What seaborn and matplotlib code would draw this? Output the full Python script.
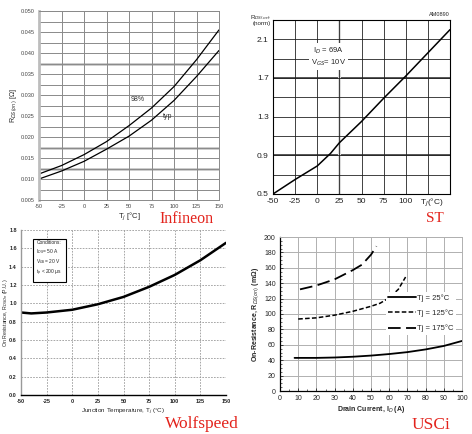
import numpy as np
import pandas as pd
import matplotlib
matplotlib.use("Agg")
import matplotlib.pyplot as plt
import seaborn as sns

# Infineon: R_DS(on) vs Tj
inf_t = [-50, -25, 0, 25, 50, 75, 100, 125, 150]
inf_typ = [0.0100, 0.0119, 0.0142, 0.0171, 0.0202, 0.0240, 0.0287, 0.0344, 0.0406]
inf_98 = [0.0112, 0.0132, 0.0158, 0.0189, 0.0227, 0.0269, 0.0320, 0.0384, 0.0455]

# ST: normalised R_DS(on) vs Tj
st_t = [-50, -25, 0, 15, 25, 50, 75, 100, 125, 150]
st_r = [0.50, 0.65, 0.79, 0.92, 1.03, 1.25, 1.49, 1.72, 1.96, 2.20]

# Wolfspeed: per-unit on resistance vs junction temperature
wolf_t = [-50, -40, -25, 0, 25, 50, 75, 100, 125, 150]
wolf_r = [0.90, 0.89, 0.90, 0.93, 0.99, 1.07, 1.18, 1.31, 1.47, 1.66]

# USCi: on resistance vs drain current
usci_id25 = [8, 20, 30, 40, 50, 60, 70, 80, 90, 100]
usci_r25 = [43, 43, 43.5, 44.5, 46, 48, 50.5, 54, 58.5, 65]
usci_id125 = [10, 20, 30, 40, 50, 55, 60, 65, 69]
usci_r125 = [93.5, 95, 98.5, 103.5, 110, 114, 121, 132, 148]
usci_id175 = [11, 20, 30, 40, 45, 50, 53]
usci_r175 = [132, 137, 145, 157, 164, 177, 188]

sns.set_style("white")
plt.rcParams['font.family'] = ['Liberation Sans', 'DejaVu Sans']
plt.rcParams['axes.unicode_minus'] = False

W, H = 472, 434
fig = plt.figure(figsize=(W / 100, H / 100), dpi=100)


def box(l, t, r, b):
    return [l / W, 1 - b / H, (r - l) / W, (b - t) / H]


red = '#e3231c'

# ---------------- Infineon ----------------
ax1 = fig.add_axes(box(39, 11, 219, 200))
df = pd.DataFrame({"t": inf_t, "typ": inf_typ, "p98": inf_98})
sns.lineplot(data=df, x="t", y="p98", ax=ax1, color='black', lw=0.9)
sns.lineplot(data=df, x="t", y="typ", ax=ax1, color='black', lw=0.9)
ax1.set_xlim(-50, 150)
ax1.set_ylim(0.005, 0.050)
ax1.set_xticks(np.arange(-50, 151, 25))
ax1.set_yticks(np.arange(0.005, 0.0501, 0.005))
ax1.set_yticks(np.arange(0.0075, 0.05, 0.005), minor=True)
ax1.yaxis.set_major_formatter(matplotlib.ticker.FormatStrFormatter('%.3f'))
ax1.grid(True, which='major', color='#8a8a8a', lw=0.7)
ax1.grid(True, which='minor', axis='y', color='#8a8a8a', lw=0.7)
for y in [0.0125, 0.0175, 0.0375]:
    ax1.axhline(y, color='#bdbdbd', lw=1.8, zorder=0)
ax1.tick_params(labelsize=4, colors='#444444', length=0, pad=3)
for s in ax1.spines.values():
    s.set_color('#8a8a8a')
    s.set_linewidth(0.7)
ax1.spines['left'].set_color('#bdbdbd')
ax1.spines['left'].set_linewidth(2)
ax1.set_xlabel("T$_j$ [°C]", fontsize=5.5, labelpad=1)
ax1.set_ylabel("R$_{DS(on)}$ [Ω]", fontsize=5, labelpad=1)
ax1.text(60, 0.0289, "98%", fontsize=5, color='#333333', ha='center', va='center')
ax1.text(93, 0.0248, "typ", fontsize=5, color='#333333', ha='center', va='center')

# ---------------- ST ----------------
ax2 = fig.add_axes(box(273, 20, 450, 194))
df = pd.DataFrame({"t": st_t, "r": st_r})
sns.lineplot(data=df, x="t", y="r", ax=ax2, color='black', lw=1.1)
ax2.set_xlim(-50, 150)
ax2.set_ylim(0.5, 2.3)
ax2.set_xticks(np.arange(-50, 101, 25))
ax2.set_xticks([125, 150], minor=True)
ax2.set_yticks([0.5, 0.9, 1.3, 1.7, 2.1])
ax2.set_yticks([0.7, 1.1, 1.5, 1.9, 2.3], minor=True)
ax2.grid(True, which='both', color='#222222', lw=0.6)
ax2.axhline(0.9, color='#555555', lw=1.4, zorder=0)
ax2.axhline(1.7, color='#555555', lw=1.4, zorder=0)
ax2.axvline(25, color='#dddddd', lw=2.2, zorder=0)
ax2.tick_params(which='both', labelsize=6, length=0, pad=3, colors='#222222')
for s in ax2.spines.values():
    s.set_color('black')
    s.set_linewidth(0.8)
ax2.set_xlabel("")
ax2.set_ylabel("")
ax2.text(-52, 2.3, "R$_{DS(on)}$\n(norm)", fontsize=4.5, ha='right', va='center',
         linespacing=0.9)
ax2.text(150, 2.33, "AM0890", fontsize=4, ha='right', va='bottom')
ax2.text(130, 0.41, "T$_J$(°C)", fontsize=6, ha='center', va='center', color='#222222')
ax2.text(13, 1.92, "I$_D$ = 69A\nV$_{GS}$= 10V", fontsize=5.5, ha='center', va='center',
         bbox=dict(facecolor='white', edgecolor='none', pad=1.5))

# ---------------- Wolfspeed ----------------
ax3 = fig.add_axes(box(21, 230, 226, 395))
df = pd.DataFrame({"t": wolf_t, "r": wolf_r})
sns.lineplot(data=df, x="t", y="r", ax=ax3, color='black', lw=1.8)
ax3.set_xlim(-50, 150)
ax3.set_ylim(0, 1.8)
ax3.set_xticks(np.arange(-50, 151, 25))
ax3.set_yticks(np.arange(0, 1.81, 0.2))
ax3.yaxis.set_major_formatter(matplotlib.ticker.FormatStrFormatter('%.1f'))
ax3.grid(True, color='#999999', lw=0.6, ls=(0, (2, 1.5)))
ax3.tick_params(labelsize=4, length=1.5, width=0.5, pad=1.5)
for lab in ax3.get_xticklabels() + ax3.get_yticklabels():
    lab.set_fontweight('bold')
ax3.spines['top'].set_visible(False)
ax3.spines['right'].set_visible(False)
ax3.spines['left'].set_color('#999999')
ax3.spines['left'].set_linewidth(1)
ax3.spines['bottom'].set_color('black')
ax3.spines['bottom'].set_linewidth(1)
ax3.set_xlabel("Junction Temperature, T$_j$ (°C)", fontsize=4.5, labelpad=2)
ax3.set_ylabel("On Resistance, R$_{DS On}$ (P.U.)", fontsize=3.8)
ax3.yaxis.set_label_coords(-0.052, 0.5)
ax3.text(0.075, 0.94, "Conditions:\nI$_{DS}$= 50 A\nV$_{GS}$= 20 V\nt$_p$ < 200 µs",
         transform=ax3.transAxes, fontsize=3.5, ha='left', va='top', linespacing=1.3,
         bbox=dict(facecolor='white', edgecolor='black', lw=0.8, pad=2.5))

# ---------------- USCi ----------------
ax4 = fig.add_axes(box(280, 237, 462, 391))
d25 = pd.DataFrame({"id": usci_id25, "r": usci_r25})
d125 = pd.DataFrame({"id": usci_id125, "r": usci_r125})
d175 = pd.DataFrame({"id": usci_id175, "r": usci_r175})
sns.lineplot(data=d25, x="id", y="r", ax=ax4, color='black', lw=1.3, label="Tj = 25°C")
sns.lineplot(data=d125, x="id", y="r", ax=ax4, color='black', lw=1.1,
             ls=(0, (3, 1.5)), label="Tj = 125°C")
sns.lineplot(data=d175, x="id", y="r", ax=ax4, color='black', lw=1.3,
             ls=(0, (7, 3)), label="Tj = 175°C")
ax4.set_xlim(0, 100)
ax4.set_ylim(0, 200)
ax4.set_xticks(np.arange(0, 101, 10))
ax4.set_yticks(np.arange(0, 201, 20))
ax4.set_yticks(np.arange(0, 201, 5), minor=True)
ax4.set_xticks(np.arange(0, 101, 5), minor=True)
ax4.grid(True, which='major', color='#b0b0b0', lw=0.7)
ax4.tick_params(which='major', direction='in', labelsize=5, length=2, width=0.6, pad=3,
                left=True, bottom=True)
ax4.tick_params(which='minor', direction='in', length=1.2, width=0.5, left=True, bottom=True)
for s in ['top', 'right']:
    ax4.spines[s].set_color('#b0b0b0')
    ax4.spines[s].set_linewidth(0.7)
for s in ['left', 'bottom']:
    ax4.spines[s].set_color('black')
    ax4.spines[s].set_linewidth(0.9)
ax4.set_xlabel("Drain Current, I$_D$ (A)", fontsize=5, fontweight='bold', labelpad=1)
ax4.set_ylabel("On-Resistance, R$_{DS(on)}$ (mΩ)", fontsize=5, fontweight='bold', labelpad=2)
leg = ax4.legend(loc='center left', bbox_to_anchor=(0.56, 0.505), fontsize=5.5,
                 frameon=True, framealpha=1, facecolor='white', edgecolor='none',
                 handlelength=3.6, handletextpad=0.2, labelspacing=1.0, borderpad=0.3)

# ---------------- manufacturer labels ----------------
serif = ['Liberation Serif', 'DejaVu Serif']
fig.text(187 / W, 1 - 219 / H, "Infineon", color=red, fontsize=11.5, family=serif,
         ha='center', va='center')
fig.text(435 / W, 1 - 219 / H, "ST", color=red, fontsize=11, family=serif,
         ha='center', va='center')
fig.text(202 / W, 1 - 424 / H, "Wolfspeed", color=red, fontsize=12.5, family=serif,
         ha='center', va='center')
fig.text(431 / W, 1 - 425 / H, "USCi", color=red, fontsize=12.5, family=serif,
         ha='center', va='center')

fig.savefig("out.png", dpi=100)
